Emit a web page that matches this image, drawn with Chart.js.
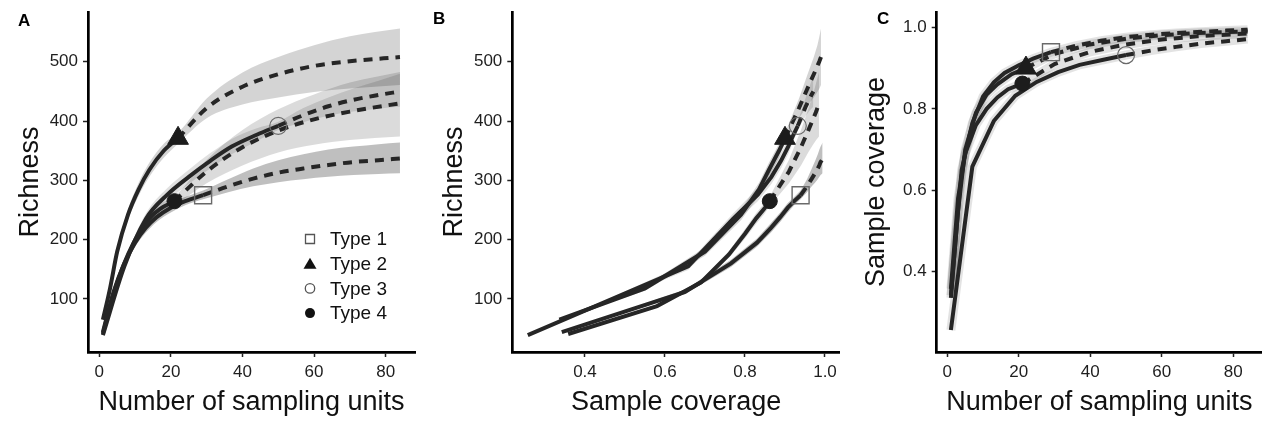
<!DOCTYPE html>
<html>
<head>
<meta charset="utf-8">
<script src="https://cdn.jsdelivr.net/npm/chart.js"></script>
<style>
  body { margin: 0; background: #fff; width: 1262px; height: 421px; overflow: hidden; position: relative; }
  canvas { position: absolute; top: 0; }
  .tag { position: absolute; font-family: 'Liberation Sans', Arial, sans-serif; font-weight: bold; font-size: 17px; line-height: 17px; color: #000; }
</style>
</head>
<body>
<canvas id="chartA" width="420" height="421" style="left:0"></canvas>
<canvas id="chartB" width="420" height="421" style="left:420px"></canvas>
<canvas id="chartC" width="422" height="421" style="left:840px"></canvas>
<div class="tag" style="left:18px;top:12px">A</div>
<div class="tag" style="left:433px;top:10px">B</div>
<div class="tag" style="left:877px;top:10px">C</div>
<script>
// sampling-unit types and their observed sample sizes
var types = ['Type 1', 'Type 2', 'Type 3', 'Type 4'];
var observedN = [29, 22, 50, 21];

// knots (number of sampling units), richness with CI, sample coverage
var n1 = [1, 4, 7, 10, 13, 16, 20, 24, 29, 36, 43, 50, 57, 64, 71, 78, 84];
var rich1 = [44, 112, 160, 195, 220, 238, 254, 265, 275, 290, 303, 313, 320, 326, 331, 334, 337];
var rich1Lo = [44, 108, 154, 188, 212, 230, 246, 258, 268, 280, 290, 297, 302, 306, 309, 311, 312];
var rich1Hi = [44, 116, 166, 202, 228, 246, 262, 272, 283, 302, 320, 334, 344, 352, 357, 361, 364];
var cov1 = [0.342, 0.65, 0.765, 0.83, 0.865, 0.888, 0.907, 0.923, 0.939, 0.955, 0.967, 0.976, 0.982, 0.986, 0.989, 0.992, 0.994];

var n2 = [1, 3, 5, 8, 11, 14, 18, 22, 30, 40, 50, 60, 70, 84];
var rich2 = [65, 118, 180, 242, 285, 318, 350, 371, 422, 458, 479, 493, 501, 508];
var rich2Lo = [65, 114, 173, 233, 274, 306, 338, 362, 405, 428, 440, 449, 455, 461];
var rich2Hi = [65, 122, 187, 251, 296, 330, 362, 380, 438, 482, 508, 528, 543, 556];
var cov2 = [0.336, 0.55, 0.70, 0.79, 0.835, 0.86, 0.885, 0.9, 0.935, 0.958, 0.972, 0.981, 0.986, 0.99];

var n3 = [1, 7, 13, 19, 25, 31, 37, 44, 50, 57, 64, 71, 78, 84];
var rich3 = [39, 155, 235, 276, 306, 333, 357, 377, 392, 410, 425, 436, 444, 450];
var rich3Lo = [39, 149, 226, 265, 294, 320, 344, 366, 385, 398, 409, 416, 421, 424];
var rich3Hi = [39, 161, 244, 287, 318, 346, 370, 388, 399, 422, 440, 455, 468, 480];
var cov3 = [0.257, 0.658, 0.77, 0.832, 0.866, 0.89, 0.908, 0.921, 0.932, 0.943, 0.952, 0.96, 0.966, 0.971];

var n4 = [1, 3, 5, 8, 11, 14, 17, 21, 30, 40, 50, 60, 70, 84];
var rich4 = [41, 88, 128, 175, 210, 236, 252, 265, 315, 356, 384, 403, 416, 430];
var rich4Lo = [41, 85, 124, 169, 202, 227, 243, 257, 295, 325, 347, 360, 368, 374];
var rich4Hi = [41, 91, 132, 181, 218, 245, 261, 273, 335, 385, 420, 445, 465, 483];
var cov4 = [0.358, 0.58, 0.69, 0.76, 0.80, 0.828, 0.848, 0.862, 0.91, 0.94, 0.958, 0.97, 0.978, 0.985];

// tick labels
var unitTicks = [0, 20, 40, 60, 80];
var richTicks = [100, 200, 300, 400, 500];
var covTicks = [0.4, 0.6, 0.8, 1.0];

var FONT = "'Liberation Sans', Arial, sans-serif";
var lineColor = '#262626';

var series = [
  {n: n1, rich: rich1, lo: rich1Lo, hi: rich1Hi, cov: cov1, obs: observedN[0]},
  {n: n2, rich: rich2, lo: rich2Lo, hi: rich2Hi, cov: cov2, obs: observedN[1]},
  {n: n3, rich: rich3, lo: rich3Lo, hi: rich3Hi, cov: cov3, obs: observedN[2]},
  {n: n4, rich: rich4, lo: rich4Lo, hi: rich4Hi, cov: cov4, obs: observedN[3]}
];
var markers = [
  {style: 'rect', r: 12, fill: 'rgba(0,0,0,0)', stroke: '#6a6a6a', w: 1.4},
  {style: 'triangle', r: 12, fill: '#1c1c1c', stroke: '#1c1c1c', w: 1},
  {style: 'circle', r: 8.5, fill: 'rgba(0,0,0,0)', stroke: '#6a6a6a', w: 1.2},
  {style: 'circle', r: 7.5, fill: '#1c1c1c', stroke: '#1c1c1c', w: 1}
];
var bandFill = ['rgba(0,0,0,0.25)', 'rgba(0,0,0,0.17)', 'rgba(0,0,0,0.12)', 'rgba(0,0,0,0.14)'];

function pts(xs, ys, a, b) {
  var out = [];
  for (var i = a; i < b; i++) out.push({x: xs[i], y: ys[i]});
  return out;
}

function buildDatasets(panel) {
  var ds = [];
  series.forEach(function (s, t) {
    var xs = panel === 'B' ? s.cov : s.n;
    var ys = panel === 'C' ? s.cov : s.rich;
    var k = s.n.indexOf(s.obs);
    var end = s.n.length;
    var curve = panel === 'A' ? 'monotone' : 'default';
    if (panel === 'C') {
      ds.push({data: pts(xs, ys, 0, end), borderColor: 'rgba(0,0,0,0.11)', borderWidth: 9, pointRadius: 0, tension: 0, order: 4});
    } else {
      ds.push({data: pts(xs, s.lo, 0, end), borderWidth: 0, pointRadius: 0, fill: false, cubicInterpolationMode: curve, order: 4});
      ds.push({data: pts(xs, s.hi, 0, end), borderWidth: 0, pointRadius: 0, fill: '-1', backgroundColor: bandFill[t], cubicInterpolationMode: curve, order: 4});
    }
    ds.push({data: pts(xs, ys, 0, k + 1), borderColor: lineColor, borderWidth: 4, pointRadius: 0, cubicInterpolationMode: curve, order: 2});
    ds.push({data: pts(xs, ys, k, end), borderColor: lineColor, borderWidth: 4, borderDash: [9, 7], pointRadius: 0, cubicInterpolationMode: curve, order: 2});
    var m = markers[t];
    ds.push({data: pts(xs, ys, k, k + 1), showLine: false, pointStyle: m.style, pointRadius: m.r,
      pointBackgroundColor: m.fill, pointBorderColor: m.stroke, pointBorderWidth: m.w, order: 1});
  });
  return ds;
}

function axis(o) {
  return {
    type: 'linear', min: o.min, max: o.max,
    afterBuildTicks: function (s) { s.ticks = o.ticks.map(function (v) { return {value: v}; }); },
    afterFit: function (s) {
      if (o.width) { s.width = o.width; s.paddingTop = 0; s.paddingBottom = 0; }
      if (o.height) { s.height = o.height; s.paddingLeft = 0; s.paddingRight = 0; }
    },
    ticks: {color: '#1e1e1e', font: {family: FONT, size: 17}, padding: 5, maxRotation: 0, autoSkip: false, callback: o.fmt},
    grid: {drawOnChartArea: false, drawTicks: true, tickLength: 5, tickWidth: 1.5, tickColor: '#222'},
    border: {display: true, color: '#000', width: 2.7},
    title: {display: true, text: o.title, color: '#111', font: {family: FONT, size: 27}, padding: o.pad}
  };
}
var plain = function (v) { return String(v); };
var oneDec = function (v) { return v.toFixed(1); };

// legend drawn inside panel A
var typeLegend = {
  id: 'typeLegend',
  afterDatasetsDraw: function (chart) {
    var ctx = chart.ctx, a = chart.chartArea;
    ctx.save();
    types.forEach(function (label, i) {
      var cx = a.right - 105, cy = a.top + 227 + i * 24.7;
      ctx.lineWidth = 1.3;
      ctx.beginPath();
      if (i === 0) {
        ctx.strokeStyle = '#555';
        ctx.rect(cx - 4.5, cy - 4.5, 9, 9);
        ctx.stroke();
      } else if (i === 1) {
        ctx.fillStyle = '#111';
        ctx.moveTo(cx, cy - 6); ctx.lineTo(cx + 6.5, cy + 5); ctx.lineTo(cx - 6.5, cy + 5); ctx.closePath();
        ctx.fill();
      } else if (i === 2) {
        ctx.strokeStyle = '#555';
        ctx.arc(cx, cy, 4.7, 0, Math.PI * 2);
        ctx.stroke();
      } else {
        ctx.fillStyle = '#111';
        ctx.arc(cx, cy, 5, 0, Math.PI * 2);
        ctx.fill();
      }
      ctx.fillStyle = '#111';
      ctx.font = '19px ' + FONT;
      ctx.textBaseline = 'middle';
      ctx.fillText(label, cx + 20, cy + 1);
    });
    ctx.restore();
  }
};

function makeChart(id, panel, pad, xAxis, yAxis, extra) {
  return new Chart(document.getElementById(id), {
    type: 'line',
    data: {datasets: buildDatasets(panel)},
    options: {
      responsive: false, animation: false, events: [],
      layout: {padding: pad, autoPadding: false},
      plugins: {legend: {display: false}, tooltip: {enabled: false}},
      scales: {x: xAxis, y: yAxis}
    },
    plugins: extra || []
  });
}

makeChart('chartA', 'A', {top: 12, right: 5, left: 0, bottom: 0},
  axis({min: -3.16, max: 88.2, ticks: unitTicks, fmt: plain, title: 'Number of sampling units', height: 69, pad: {top: 0, bottom: 2}}),
  axis({min: 10.6, max: 584, ticks: richTicks, fmt: plain, title: 'Richness', width: 88, pad: {top: 14.5, bottom: 0}}),
  [typeLegend]);

makeChart('chartB', 'B', {top: 12, right: 0, left: 0, bottom: 0},
  axis({min: 0.2183, max: 1.0375, ticks: covTicks, fmt: oneDec, title: 'Sample coverage', height: 69, pad: {top: 0, bottom: 2}}),
  axis({min: 10.6, max: 584, ticks: richTicks, fmt: plain, title: 'Richness', width: 92.3, pad: {top: 18.8, bottom: 0}}));

makeChart('chartC', 'C', {top: 12, right: 0, left: 0, bottom: 0},
  axis({min: -2.97, max: 88.03, ticks: unitTicks, fmt: plain, title: 'Number of sampling units', height: 69, pad: {top: 0, bottom: 2}}),
  axis({min: 0.2032, max: 1.0376, ticks: covTicks, fmt: oneDec, title: 'Sample coverage', width: 96.7, pad: {top: 20, bottom: 0}}));
</script>
</body>
</html>
